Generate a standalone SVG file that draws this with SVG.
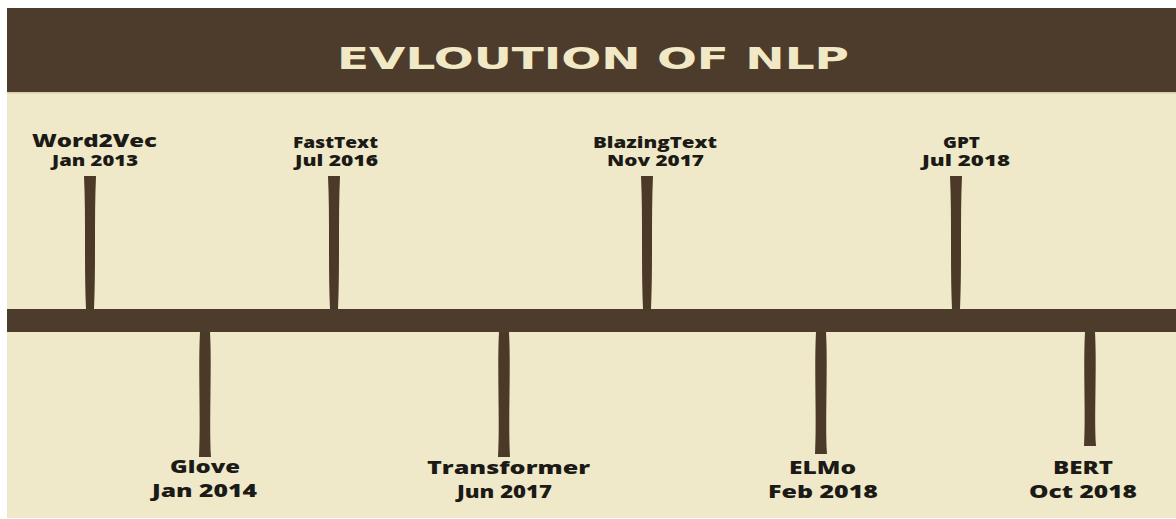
<svg xmlns="http://www.w3.org/2000/svg" width="1176" height="519" viewBox="0 0 1176 519">
  <style>
    .bg { fill: #efe9c9; }
    .band { fill: #4d3b2b; }
    .stem { fill: #4b3a28; }
    .title { font-family: "DejaVu Sans", "Liberation Sans", sans-serif; font-weight: bold; font-size: 30px; fill: #f1e8c6; }
    .name { font-family: "Open Sans", "Liberation Sans", sans-serif; font-weight: 800; fill: #1c1a16; }
    .big { font-size: 18px; }
    .mid { font-size: 17px; }
    .small { font-size: 15px; }
  </style>

  <!-- page -->
  <rect x="0" y="0" width="1176" height="519" fill="#ffffff"/>
  <rect class="bg" x="7" y="8" width="1169" height="510"/>

  <!-- header -->
  <g id="header">
    <rect class="band" x="7" y="8" width="1169" height="84"/>
    <rect x="7" y="92" width="1169" height="1.5" fill="#d8cfae"/>
    <text class="title" x="337" y="69" textLength="512" lengthAdjust="spacingAndGlyphs">EVLOUTION OF NLP</text>
  </g>

  <!-- timeline axis and stems -->
  <g id="connectors">
    <rect class="band" x="7" y="309" width="1169" height="23"/>
    <!-- stems above the axis -->
    <path class="stem" d="M84,176 L96,176 C94,220 96,265 94,309 L86,309 C84,265 86,220 84,176 Z"/>
    <path class="stem" d="M328,176 L340,176 C338,220 340,265 338,309 L330,309 C328,265 330,220 328,176 Z"/>
    <path class="stem" d="M641,176 L653,176 C651,220 653,265 651,309 L643,309 C641,265 643,220 641,176 Z"/>
    <path class="stem" d="M950,176 L962,176 C960,220 962,265 960,309 L952,309 C950,265 952,220 950,176 Z"/>
    <!-- stems below the axis -->
    <path class="stem" d="M200,332 L210,332 C212,370 209,420 211,457 L199,457 C201,420 198,370 200,332 Z"/>
    <path class="stem" d="M499,332 L509,332 C511,370 508,420 510,457 L498,457 C500,420 497,370 499,332 Z"/>
    <path class="stem" d="M816,332 L826,332 C828,370 825,420 827,454 L815,454 C817,420 814,370 816,332 Z"/>
    <path class="stem" d="M1085,332 L1095,332 C1097,370 1094,415 1096,446 L1084,446 C1086,415 1083,370 1085,332 Z"/>
  </g>

  <!-- milestones above the axis -->
  <g id="word2vec">
    <text class="name mid" x="32" y="147" textLength="125" lengthAdjust="spacingAndGlyphs">Word2Vec</text>
    <text class="name small" x="52" y="166" textLength="86" lengthAdjust="spacingAndGlyphs">Jan 2013</text>
  </g>
  <g id="fasttext">
    <text class="name small" x="293" y="148" textLength="85" lengthAdjust="spacingAndGlyphs">FastText</text>
    <text class="name small" x="295" y="166" textLength="83" lengthAdjust="spacingAndGlyphs">Jul 2016</text>
  </g>
  <g id="blazingtext">
    <text class="name small" x="593" y="148" textLength="124" lengthAdjust="spacingAndGlyphs">BlazingText</text>
    <text class="name small" x="607" y="166" textLength="97" lengthAdjust="spacingAndGlyphs">Nov 2017</text>
  </g>
  <g id="gpt">
    <text class="name small" x="943" y="148" textLength="37" lengthAdjust="spacingAndGlyphs">GPT</text>
    <text class="name small" x="922" y="166" textLength="88" lengthAdjust="spacingAndGlyphs">Jul 2018</text>
  </g>

  <!-- milestones below the axis -->
  <g id="glove">
    <text class="name big" x="170" y="473" textLength="70" lengthAdjust="spacingAndGlyphs">Glove</text>
    <text class="name big" x="152" y="497" textLength="105" lengthAdjust="spacingAndGlyphs">Jan 2014</text>
  </g>
  <g id="transformer">
    <text class="name big" x="427" y="474" textLength="163" lengthAdjust="spacingAndGlyphs">Transformer</text>
    <text class="name big" x="457" y="498" textLength="95" lengthAdjust="spacingAndGlyphs">Jun 2017</text>
  </g>
  <g id="elmo">
    <text class="name big" x="789" y="474" textLength="67" lengthAdjust="spacingAndGlyphs">ELMo</text>
    <text class="name big" x="768" y="498" textLength="110" lengthAdjust="spacingAndGlyphs">Feb 2018</text>
  </g>
  <g id="bert">
    <text class="name big" x="1053" y="474" textLength="60" lengthAdjust="spacingAndGlyphs">BERT</text>
    <text class="name big" x="1029" y="498" textLength="108" lengthAdjust="spacingAndGlyphs">Oct 2018</text>
  </g>
</svg>
